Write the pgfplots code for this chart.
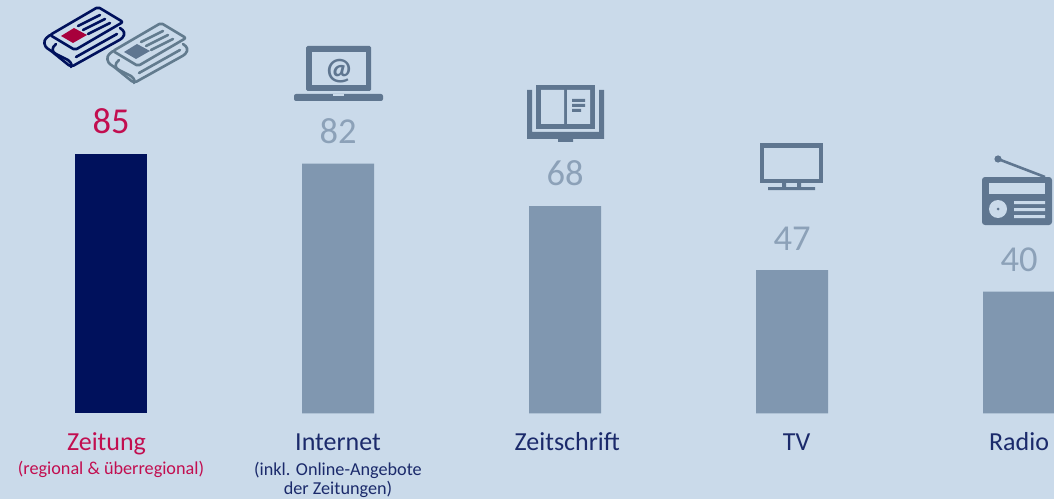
\documentclass[border=0pt]{standalone}
\usepackage{pgfplots}
\usepackage{fontspec}
\setmainfont{Carlito}
\pgfplotsset{compat=1.18}
\definecolor{bg}{HTML}{CADAEA}
\definecolor{navy}{HTML}{00115C}
\definecolor{barg}{HTML}{8097B0}
\definecolor{valg}{HTML}{8CA1B8}
\definecolor{crim}{HTML}{C20E50}
\definecolor{txt}{HTML}{1B2A6B}
\definecolor{ico}{HTML}{5F7690}
\definecolor{icred}{HTML}{A8003C}
\definecolor{icgr}{HTML}{627B8E}
\newcommand{\paper}[4]{%
\begin{scope}[shift={(#1,#2)},draw=#3,line width=2.6pt,line join=round,line cap=round,fill=#4]
\draw[rounded corners=2pt] (98,7)--(123,22)--(75,50)--(50,35)--cycle;
\draw[rounded corners=3pt] (50,35)--(44,40)--(45,47)--(50,50)--(71,67)--(123,38)--(125,32)--(120,28);
\draw (56,44) .. controls (51,48) and (52,52) .. (56,54) -- (68,60) .. controls (72,63) and (72,66) .. (71,67);
\draw (78,26)--(100,15) (83,30)--(105,19) (88,34)--(110,23) (76,57)--(117,34);
\fill (61,36)--(74,28)--(87,35)--(73,43)--cycle;
\end{scope}}
\newcommand{\first}{\fontsize{26}{21}\selectfont\rule{0pt}{20pt}}
\newcommand{\second}{\fontsize{18.2}{21}\selectfont}
\begin{document}
\begin{tikzpicture}
\path[use as bounding box] (0,0) rectangle (1054pt,499pt);
\begin{axis}[
  at={(0,0)},anchor=south west,
  scale only axis,width=1054pt,height=499pt,
  xmin=-0.489,xmax=4.154,ymin=-28.1,ymax=135.7,
  axis background/.style={fill=bg},
  axis x line*=middle,axis y line=none,
  x axis line style={draw=none},
  hide obscured x ticks=false,
  major tick length=0pt,
  xtick={0,1,2.01,3.02,4},
  xticklabels={
    {\color{crim}\first\hspace*{-9pt}Zeitung\\[5pt]\color{crim}\second (regional \& überregional)},
    {\first Internet\\[10pt]\second (inkl. Online-Angebote\\[2pt]\second der Zeitungen)},
    {\first Zeitschrift},
    {\first TV},
    {\first Radio}},
  xticklabel style={anchor=north,align=center,text=txt,yshift=-17pt,inner sep=0pt},
  ybar,bar width=72pt,bar shift=0pt,
  nodes near coords={\pgfmathprintnumber[assume math mode=true]{\pgfplotspointmeta}},
  point meta=y,
  every node near coord/.style={font=\fontsize{36.5}{40}\selectfont,anchor=south,yshift=20pt,inner sep=0pt},
  clip=false,
]
\addplot[fill=navy,draw=none,nodes near coords style={text=crim}] coordinates {(0,85)};
\addplot[fill=barg,draw=none,nodes near coords style={text=valg}] coordinates {(1,82)(2,68)(3,47)(4,40)};
\end{axis}
\begin{scope}[shift={(0,499pt)},x=1pt,y=-1pt]
% newspapers
\paper{63}{16}{icgr}{ico}
\paper{0}{0}{navy}{icred}
% laptop
\fill[ico,rounded corners=1.5pt] (306,46) rectangle (371,91);
\fill[bg] (312,52) rectangle (366,85);
\fill[ico,rounded corners=2pt] (294,94) rectangle (383,101);
\fill[bg] (333,94) rectangle (344,96);
\node[text=ico,font=\fontsize{31}{34}\selectfont\bfseries,inner sep=0pt] at (339,71) {@};
% book
\fill[ico] (536,85) rectangle (595,129);
\fill[bg] (541,90) rectangle (564,124) (567,90) rectangle (590,124);
\fill[ico] (527,90) rectangle (532,132) (599,90) rectangle (604,132) (527,132) rectangle (604,139) (558,139) rectangle (573,142);
\fill[ico] (572,99) rectangle (585,102) (572,104) rectangle (585,107) (572,109) rectangle (581,112);
% tv
\fill[ico] (760,143) rectangle (823,183);
\fill[bg] (764,148) rectangle (819,179);
\fill[ico] (782,183) rectangle (786,187) (797,183) rectangle (801,187) (768,187) rectangle (815,190);
% radio
\draw[ico,line width=2.6pt] (998,159)--(1045,177);
\fill[ico] (998,159) circle (3.6);
\fill[ico,rounded corners=3pt] (982,177) rectangle (1052,225);
\fill[bg] (989,183) rectangle (1045,194);
\fill[bg] (998,209) circle (9);
\fill[ico] (998,209) circle (1.5);
\fill[bg] (1014,201) rectangle (1045,204) (1014,208) rectangle (1045,211) (1014,215) rectangle (1045,218);
\end{scope}
\end{tikzpicture}
\end{document}
